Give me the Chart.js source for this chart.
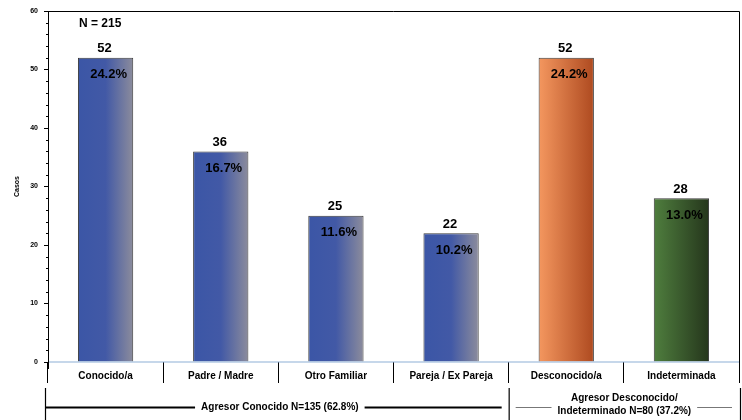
<!DOCTYPE html>
<html><head><meta charset="utf-8">
<script src="https://cdn.jsdelivr.net/npm/chart.js@4"></script>
<style>html,body{margin:0;padding:0;background:#fff}#wrap{width:742px;height:420px}</style>
</head><body><div id="wrap"><canvas id="c" width="742" height="420"></canvas></div>
<script>
const categories = ['Conocido/a','Padre / Madre','Otro Familiar','Pareja / Ex Pareja','Desconocido/a','Indeterminada'];
const casos = [52,36,25,22,52,28];
const porcentajes = ['24.2%','16.7%','11.6%','10.2%','24.2%','13.0%'];
const grupoTipo = ['conocido','conocido','conocido','conocido','desconocido','indeterminado'];
const yTicks = [0,10,20,30,40,50,60];
const totalLabel = 'N = 215';
const grupo1 = 'Agresor Conocido N=135 (62.8%)';
const grupo2 = ['Agresor Desconocido/','Indeterminado N=80 (37.2%)'];

const FONT = '"Liberation Sans", Arial, sans-serif';
const gradStops = {
  conocido: [[0,'#3b56a6'],[0.5,'#4259a6'],[1,'#8c8c9c']],
  desconocido: [[0,'#f4975f'],[1,'#ae4a20']],
  indeterminado: [[0,'#4f7e3e'],[1,'#25361c']]
};

const decor = {
  id:'decor',
  beforeDatasetsDraw(chart){
    const meta = chart.getDatasetMeta(0);
    const ctx = chart.ctx;
    meta.data.forEach((el,i)=>{
      const l = el.x - el.width/2, r = el.x + el.width/2;
      const g = ctx.createLinearGradient(l,0,r,0);
      gradStops[grupoTipo[i]].forEach(s=>g.addColorStop(s[0],s[1]));
      el.options = Object.assign({}, el.options, {backgroundColor: g});
    });
  },
  afterDatasetsDraw(chart){
    const ctx = chart.ctx, ca = chart.chartArea;
    const y = chart.scales.y, x = chart.scales.x;
    const meta = chart.getDatasetMeta(0);
    ctx.save();
    ctx.strokeStyle = '#000'; ctx.lineWidth = 1;
    ctx.beginPath();
    ctx.moveTo(ca.left, ca.top+0.5); ctx.lineTo(ca.right+0.5, ca.top+0.5);
    ctx.lineTo(ca.right+0.5, ca.bottom); ctx.stroke();
    ctx.strokeStyle = '#8db0d6'; ctx.lineWidth = 1.2;
    ctx.beginPath(); ctx.moveTo(ca.left, y.getPixelForValue(0)); ctx.lineTo(ca.right, y.getPixelForValue(0)); ctx.stroke();
    ctx.strokeStyle = '#000'; ctx.lineWidth = 1;
    ctx.beginPath(); ctx.moveTo(ca.left+0.5, ca.top); ctx.lineTo(ca.left+0.5, ca.bottom+7); ctx.stroke();
    ctx.beginPath();
    for(let v=0; v<=60; v+=2){
      if(v%10===0) continue;
      const py = Math.round(y.getPixelForValue(v))+0.5;
      ctx.moveTo(ca.left-2, py); ctx.lineTo(ca.left+1, py);
    }
    ctx.stroke();
    ctx.fillStyle = '#000';
    ctx.font = 'bold 13px '+FONT;
    ctx.textAlign = 'center'; ctx.textBaseline = 'middle';
    meta.data.forEach((el,i)=>{
      ctx.fillText(String(casos[i]), el.x-1, el.y-9);
      ctx.fillText(porcentajes[i], el.x+3, el.y+17);
    });
    ctx.font = 'bold 12px '+FONT;
    ctx.textAlign = 'left';
    ctx.fillText(totalLabel, 79, 24);
    const b1 = 45, b2 = x.getPixelForValue(3.5), b3 = ca.right+1;
    ctx.lineWidth = 1.2; ctx.strokeStyle = '#000';
    ctx.beginPath();
    [b1,b2,b3].forEach(bx=>{ctx.moveTo(bx+0.5, 388); ctx.lineTo(bx+0.5, 420);});
    ctx.stroke();
    ctx.font = 'bold 10px '+FONT;
    ctx.textAlign = 'center';
    const g1c = (b1+b2)/2 + 3;
    ctx.fillText(grupo1, g1c, 407);
    const w1 = ctx.measureText(grupo1).width;
    ctx.lineWidth = 2;
    ctx.beginPath();
    ctx.moveTo(b1, 407.5); ctx.lineTo(g1c - w1/2 - 6, 407.5);
    ctx.moveTo(g1c + w1/2 + 6, 407.5); ctx.lineTo(b2-7, 407.5);
    ctx.stroke();
    const g2c = (b2+b3)/2;
    ctx.fillText(grupo2[0], g2c, 398);
    ctx.fillText(grupo2[1], g2c, 411);
    const w2 = ctx.measureText(grupo2[1]).width;
    ctx.strokeStyle = '#777'; ctx.lineWidth = 1;
    ctx.beginPath();
    ctx.moveTo(b2+7, 407.5); ctx.lineTo(g2c - w2/2 - 6, 407.5);
    ctx.moveTo(g2c + w2/2 + 6, 407.5); ctx.lineTo(b3-8, 407.5);
    ctx.stroke();
    ctx.restore();
  }
};

new Chart(document.getElementById('c'), {
  type:'bar',
  data:{ labels: categories, datasets:[{ data: casos, backgroundColor:'#3b56a6', borderColor:'#3a3a3a', borderWidth:1, barPercentage:0.48, categoryPercentage:1 }]},
  options:{
    responsive:false, animation:false, devicePixelRatio:1,
    layout:{ padding:{ top:11, right:3, left:0, bottom:0 } },
    plugins:{ legend:{display:false}, tooltip:{enabled:false} },
    scales:{
      x:{
        grid:{ offset:true, drawOnChartArea:false, tickLength:21, color:'#000', lineWidth:1 },
        border:{ display:false },
        ticks:{ font:{ family:FONT, size:10, weight:'bold' }, color:'#000', padding:-13, maxRotation:0 },
        afterFit(s){ s.height = 58; }
      },
      y:{
        min:0, max:60,
        afterBuildTicks(s){ s.ticks = yTicks.map(v=>({value:v})); },
        grid:{ drawOnChartArea:false, tickLength:4, color:'#000' },
        border:{ display:false },
        ticks:{ font:{ family:FONT, size:7, weight:'bold' }, color:'#000', padding:6 },
        title:{ display:true, text:'Casos', font:{ family:FONT, size:7, weight:'bold' }, color:'#000', padding:{top:13,bottom:0} },
        afterFit(s){ s.width = 48; }
      }
    }
  },
  plugins:[decor]
});
</script>
</body></html>
